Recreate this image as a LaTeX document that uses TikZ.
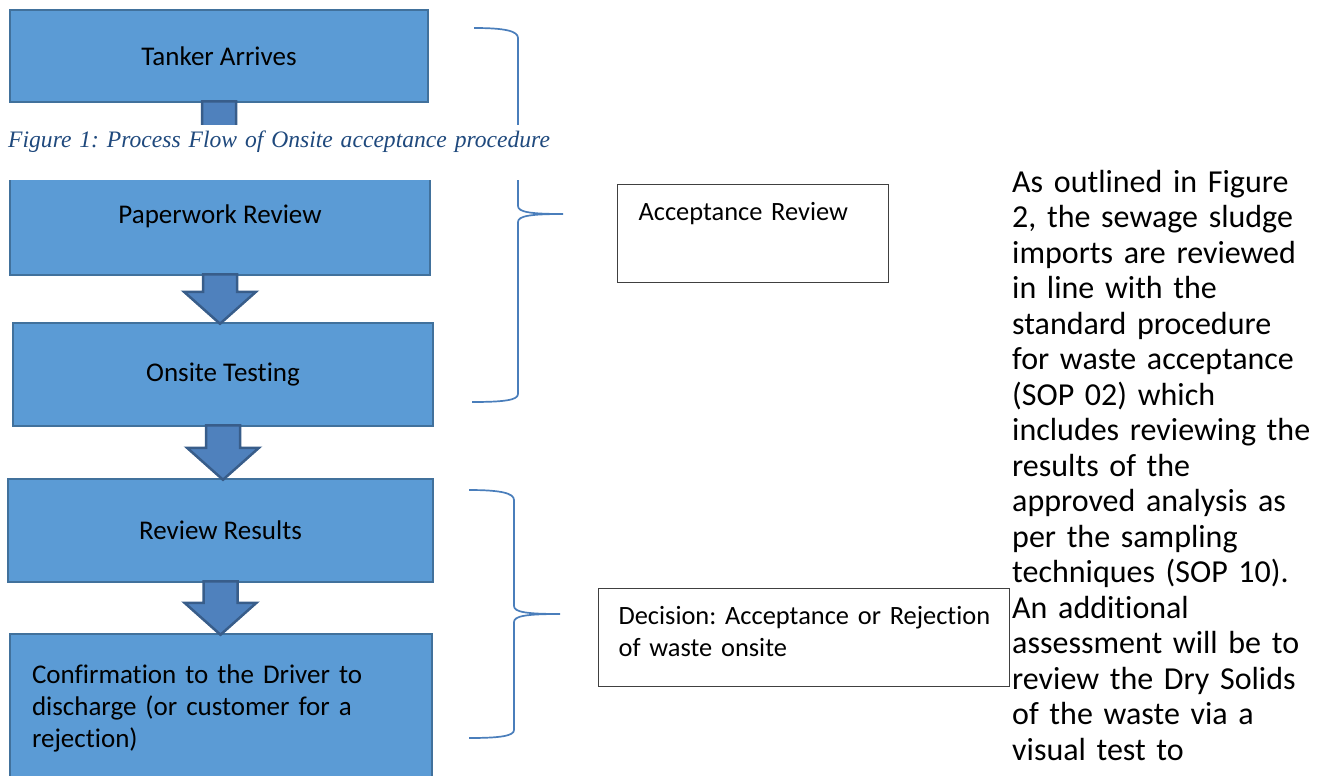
\documentclass[tikz,border=0pt]{standalone}
\usepackage{fontspec}
\setmainfont{Carlito}[Ligatures=NoCommon]
\newfontfamily\capfont{Liberation Serif}
\usetikzlibrary{calc}

\definecolor{boxblue}{HTML}{5B9BD5}
\definecolor{boxedge}{HTML}{41719C}
\definecolor{arrowblue}{HTML}{4F81BD}
\definecolor{arrowedge}{HTML}{385D8A}
\definecolor{bracecol}{HTML}{4A7EBB}
\definecolor{capcol}{HTML}{1F497D}
\definecolor{noteedge}{HTML}{404040}

\frenchspacing

% block arrow from the bottom of one box to the top of the next
\newcommand{\blockarrow}[2]{%
    \draw[flowarrow] let \p1=(#1.south), \p2=(#2.north) in
        (\x1-17pt,\y1+2pt) -- (\x1+17pt,\y1+2pt) -- (\x1+17pt,\y2+30pt) -- (\x1+36pt,\y2+30pt)
        -- (\x1,\y2-2pt) -- (\x1-36pt,\y2+30pt) -- (\x1-17pt,\y2+30pt) -- cycle;}

\begin{document}
\begin{tikzpicture}[x=1pt, y=-1pt,
    flowbox/.style={draw=boxedge, fill=boxblue, line width=2.5pt, font=\fontsize{27pt}{32pt}\selectfont},
    flowarrow/.style={draw=arrowedge, fill=arrowblue, line width=2.5pt, line join=miter},
    notebox/.style={draw=noteedge, line width=1.2pt, anchor=north west, align=left, inner ysep=0pt,
        text height=36pt, text depth=62pt, font=\fontsize{26.4pt}{32pt}\selectfont},
    brace/.style={draw=bracecol, line width=1.7pt}]

    \useasboundingbox (0,0) rectangle (1322,776);

    \node[flowbox, minimum width=418pt, minimum height=92pt] (tanker) at (219,56) {Tanker Arrives};
    \node[flowbox, minimum width=420pt, minimum height=117pt] (paper) at (220,216.5) {Paperwork Review};
    \node[flowbox, minimum width=420pt, minimum height=103pt] (onsite) at (223,374.5) {Onsite Testing};
    \node[flowbox, minimum width=425pt, minimum height=103pt] (review) at (220.5,530.5) {Review Results};
    \node[flowbox, minimum width=422pt, minimum height=148pt, text width=378pt, align=left] (confirm) at (221,708)
        {Confirmation to the Driver to\\ discharge (or customer for a\\ rejection)};

    \blockarrow{tanker}{paper}
    \blockarrow{paper}{onsite}
    \blockarrow{onsite}{review}
    \blockarrow{review}{confirm}

    % braces
    \draw[brace] (474,28) .. controls (505,28) and (518,31) .. (518,38) -- (518,206)
        .. controls (518,212) and (530,214) .. (563,214) .. controls (530,214) and (518,216) .. (518,222)
        -- (518,394) .. controls (518,400) and (505,402) .. (472,402);
    \draw[brace] (469,490) .. controls (500,490) and (514,493) .. (514,500) -- (514,606)
        .. controls (514,612) and (526,614) .. (560,614) .. controls (526,614) and (514,616) .. (514,622)
        -- (514,730) .. controls (514,736) and (500,738) .. (469,738);

    \node[anchor=north west, fill=white, inner xsep=8pt, inner ysep=0pt, text width=552pt, align=left,
        text height=22pt, text depth=33pt, text=capcol, font=\capfont\itshape\fontsize{23.6pt}{28pt}\selectfont]
        (caption) at (0,125) {\mbox{Figure 1: Process Flow of Onsite acceptance procedure}};

    \node[notebox, inner xsep=21pt, text width=229pt] (accept) at (617,184) {Acceptance Review};
    \node[notebox, inner xsep=20pt, text width=371pt] (decide) at (598,588)
        {\mbox{Decision: Acceptance or Rejection}\\ of waste onsite};

    \node[anchor=base west, inner sep=0pt, text width=310pt, align=left, font=\fontsize{32pt}{35.5pt}\selectfont]
        (para) at (1012,192) {As outlined in Figure\\ 2, the sewage sludge\\ imports are reviewed\\ in line with the\\
        standard procedure\\ for waste acceptance\\ (SOP 02) which\\ includes reviewing the\\ results of the\\
        approved analysis as\\ per the sampling\\ techniques (SOP 10).\\ An additional\\ assessment will be to\\
        review the Dry Solids\\ of the waste via a\\ visual test to};

\end{tikzpicture}
\end{document}
